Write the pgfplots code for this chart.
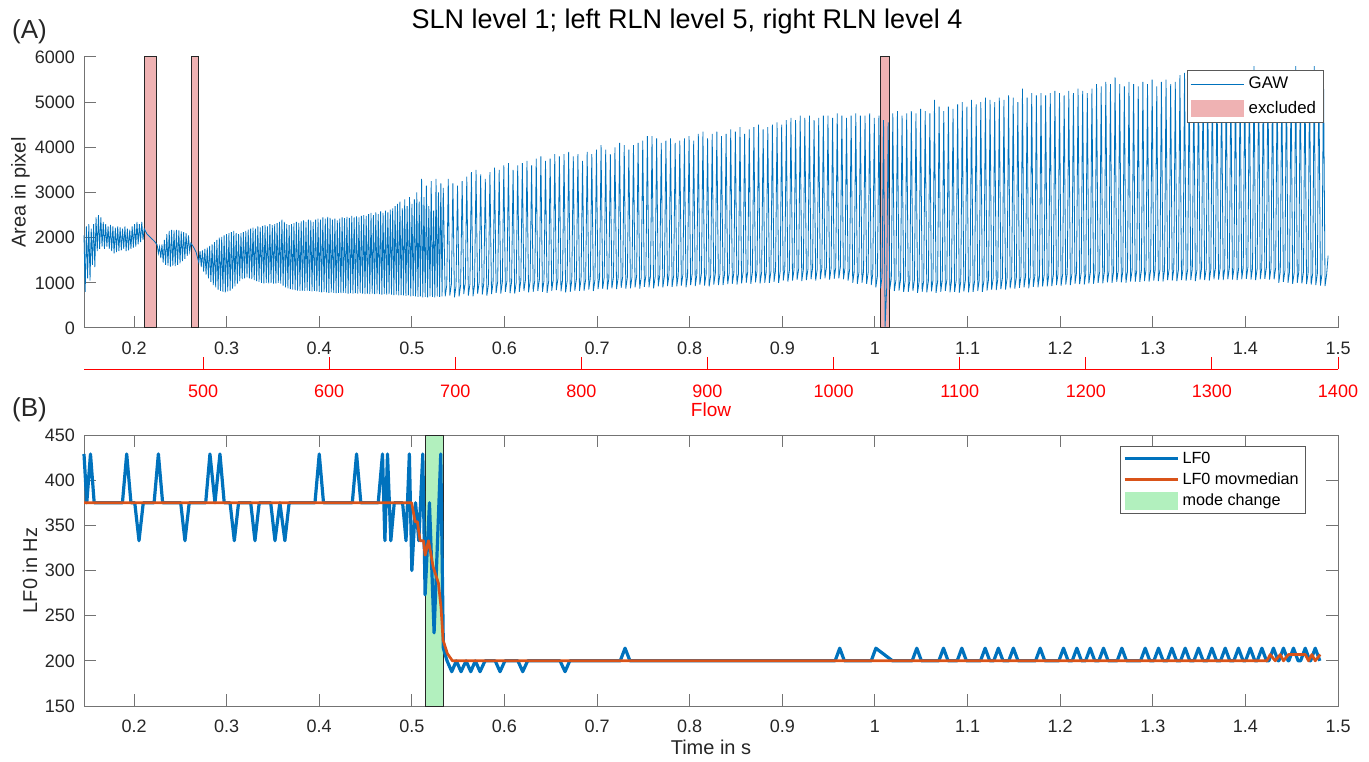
\documentclass[border=0pt]{standalone}
\usepackage{pgfplots}
\usepackage{pgfplotstable}
\pgfplotsset{compat=1.18}
\usepackage{fontspec}
\setmainfont{Liberation Sans}
\definecolor{gawblue}{RGB}{0,114,189}
\definecolor{mlorange}{RGB}{217,83,25}
\definecolor{exclpink}{RGB}{239,178,179}
\definecolor{modegreen}{RGB}{178,240,190}
\definecolor{axgray}{RGB}{115,115,115}
\definecolor{txt}{RGB}{38,38,38}
\pgfplotsset{
  mylinelegend/.style={legend image code/.code={\draw[##1] (0pt,0pt) -- (26.5pt,0pt);}},
  myarealegend/.style={legend image code/.code={\fill[##1] (0pt,-4.3pt) rectangle (26.5pt,4.3pt);}},
  base/.style={
    scale only axis, width=627pt, height=135.5pt,
    xmin=0.146, xmax=1.5,
    xtick={0.2,0.3,0.4,0.5,0.6,0.7,0.8,0.9,1,1.1,1.2,1.3,1.4,1.5},
    /pgf/number format/assume math mode=true,
    /pgf/number format/1000 sep={},
    tick label style={font=\fontsize{9}{10}\selectfont, text=txt},
    xticklabel style={yshift=-3.6pt},
    yticklabel style={xshift=-1pt},
    label style={font=\fontsize{10}{12}\selectfont, text=txt},
    axis line style={axgray, line width=0.5pt},
    major tick style={axgray, line width=0.5pt},
    major tick length=6.2pt,
    tick align=inside,
    xlabel style={at={(axis description cs:0.5,0)}, anchor=center, yshift=-20.5pt},
    legend style={draw=black!65, line width=0.4pt, fill=white, text=black, cells={anchor=west}, inner xsep=1.5pt, inner ysep=1pt, row sep=0pt},
    legend cell align=left,
  },
}
\begin{document}
\pgfplotstableread{
t a
0.1460 2050
0.1473 800
0.1486 2250
0.1499 1100
0.1512 2300
0.1525 1050
0.1538 2200
0.1551 1400
0.1564 2300
0.1577 1350
0.1590 2450
0.1603 1700
0.1616 2500
0.1629 1750
0.1642 2450
0.1655 1800
0.1668 2350
0.1681 1750
0.1694 2300
0.1707 1800
0.1720 2250
0.1733 1750
0.1746 2280
0.1759 1700
0.1772 2250
0.1785 1650
0.1798 2220
0.1811 1680
0.1824 2250
0.1837 1700
0.1850 2230
0.1863 1720
0.1876 2200
0.1889 1750
0.1902 2250
0.1915 1700
0.1928 2200
0.1941 1720
0.1954 2180
0.1967 1750
0.1980 2250
0.1993 1780
0.2006 2300
0.2019 1800
0.2032 2350
0.2045 1850
0.2058 2300
0.2071 1900
0.2084 2350
0.2097 1950
0.2110 2200
0.2140 2080
0.2180 2000
0.2220 1920
0.2250 1840
0.2263 1650
0.2276 1800
0.2289 1550
0.2302 1850
0.2315 1450
0.2328 1950
0.2341 1400
0.2354 2080
0.2367 1380
0.2380 2150
0.2393 1360
0.2406 2170
0.2419 1380
0.2432 2160
0.2445 1370
0.2458 2170
0.2471 1400
0.2484 2160
0.2497 1430
0.2510 2140
0.2523 1480
0.2536 2120
0.2549 1530
0.2562 2100
0.2575 1600
0.2588 2050
0.2601 1700
0.2614 1880
0.2640 1800
0.2670 1680
0.2700 1450
0.2713 1700
0.2726 1350
0.2739 1720
0.2752 1250
0.2765 1750
0.2778 1180
0.2791 1780
0.2804 1100
0.2817 1820
0.2830 1020
0.2843 1850
0.2856 950
0.2869 1900
0.2882 900
0.2895 1950
0.2908 850
0.2921 2000
0.2934 820
0.2947 2020
0.2960 800
0.2973 2050
0.2986 790
0.2999 2080
0.3012 810
0.3025 2100
0.3038 830
0.3051 2120
0.3064 870
0.3077 2150
0.3090 920
0.3103 2100
0.3116 980
0.3129 2080
0.3142 1040
0.3155 2100
0.3168 1080
0.3181 2120
0.3194 1100
0.3207 2150
0.3220 1120
0.3233 2180
0.3246 1100
0.3259 2200
0.3272 1080
0.3285 2220
0.3298 1060
0.3311 2200
0.3324 1040
0.3337 2250
0.3350 1020
0.3363 2230
0.3376 1000
0.3389 2260
0.3402 990
0.3415 2280
0.3428 1000
0.3441 2250
0.3454 990
0.3467 2300
0.3480 1000
0.3493 2280
0.3506 980
0.3519 2300
0.3532 990
0.3545 2320
0.3558 1000
0.3571 2350
0.3584 980
0.3597 2400
0.3610 940
0.3623 2350
0.3636 900
0.3649 2300
0.3662 880
0.3675 2280
0.3688 860
0.3701 2300
0.3714 850
0.3727 2320
0.3740 840
0.3753 2350
0.3766 830
0.3779 2330
0.3792 820
0.3805 2360
0.3818 830
0.3831 2380
0.3844 820
0.3857 2350
0.3870 830
0.3883 2400
0.3896 820
0.3909 2380
0.3922 810
0.3935 2350
0.3948 820
0.3961 2400
0.3974 810
0.3987 2420
0.4000 800
0.4013 2400
0.4026 790
0.4039 2450
0.4052 800
0.4065 2420
0.4078 790
0.4091 2460
0.4104 780
0.4117 2440
0.4130 790
0.4143 2400
0.4156 780
0.4169 2420
0.4182 770
0.4195 2380
0.4208 780
0.4221 2420
0.4234 770
0.4247 2450
0.4260 780
0.4273 2430
0.4286 770
0.4299 2460
0.4312 760
0.4325 2440
0.4338 770
0.4351 2480
0.4364 760
0.4377 2450
0.4390 770
0.4403 2470
0.4416 760
0.4429 2450
0.4442 770
0.4455 2480
0.4468 760
0.4481 2500
0.4494 750
0.4507 2480
0.4520 760
0.4533 2520
0.4546 750
0.4559 2550
0.4572 760
0.4585 2500
0.4598 750
0.4611 2560
0.4624 760
0.4637 2520
0.4650 750
0.4663 2580
0.4676 740
0.4689 2550
0.4702 750
0.4715 2600
0.4728 740
0.4741 2560
0.4754 750
0.4767 2620
0.4780 740
0.4793 2650
0.4806 730
0.4819 2700
0.4832 740
0.4845 2750
0.4858 720
0.4871 2800
0.4884 730
0.4897 2650
0.4910 720
0.4923 2850
0.4936 710
0.4949 2700
0.4962 720
0.4975 2900
0.4988 700
0.5001 2750
0.5014 710
0.5027 2850
0.5040 700
0.5053 3000
0.5066 690
0.5079 2800
0.5092 700
0.5105 3300
0.5118 680
0.5131 2900
0.5144 690
0.5157 3150
0.5170 680
0.5183 2700
0.5196 700
0.5209 3250
0.5222 690
0.5235 2600
0.5248 680
0.5261 3300
0.5274 700
0.5287 3000
0.5300 690
0.5313 3200
0.5326 700
0.5339 3100
0.5360 700
0.5377 950
0.5393 3300
0.5410 720
0.5427 970
0.5443 3200
0.5460 680
0.5477 930
0.5493 3150
0.5510 700
0.5527 950
0.5543 3250
0.5560 750
0.5577 1000
0.5593 3350
0.5610 720
0.5627 970
0.5643 3450
0.5660 700
0.5677 950
0.5693 3500
0.5710 760
0.5727 1010
0.5743 3400
0.5760 740
0.5777 990
0.5793 3300
0.5810 720
0.5827 970
0.5843 3450
0.5860 750
0.5877 1000
0.5893 3550
0.5910 780
0.5927 1030
0.5943 3500
0.5960 760
0.5977 1010
0.5993 3600
0.6010 800
0.6027 1050
0.6043 3650
0.6060 770
0.6077 1020
0.6093 3500
0.6110 760
0.6127 1010
0.6143 3600
0.6160 800
0.6177 1050
0.6193 3650
0.6210 820
0.6227 1070
0.6243 3700
0.6260 790
0.6277 1040
0.6293 3600
0.6310 800
0.6327 1050
0.6343 3750
0.6360 820
0.6377 1070
0.6393 3800
0.6410 800
0.6427 1050
0.6443 3700
0.6460 780
0.6477 1030
0.6493 3750
0.6510 820
0.6527 1070
0.6543 3850
0.6560 840
0.6577 1090
0.6593 3800
0.6610 810
0.6627 1060
0.6643 3850
0.6660 790
0.6677 1040
0.6693 3900
0.6710 800
0.6727 1050
0.6743 3800
0.6760 830
0.6777 1080
0.6793 3850
0.6810 820
0.6827 1070
0.6843 3700
0.6860 830
0.6877 1080
0.6893 3900
0.6910 850
0.6927 1100
0.6943 3850
0.6960 820
0.6977 1070
0.6993 3950
0.7010 860
0.7027 1110
0.7043 4050
0.7060 870
0.7077 1120
0.7093 3950
0.7110 850
0.7127 1100
0.7143 3850
0.7160 880
0.7177 1130
0.7193 4000
0.7210 860
0.7227 1110
0.7243 4100
0.7260 890
0.7277 1140
0.7293 4050
0.7310 870
0.7327 1120
0.7343 3950
0.7360 880
0.7377 1130
0.7393 4050
0.7410 900
0.7427 1150
0.7443 4100
0.7460 870
0.7477 1120
0.7493 4150
0.7510 910
0.7527 1160
0.7543 4250
0.7560 900
0.7577 1150
0.7593 4250
0.7610 880
0.7627 1130
0.7643 4200
0.7660 920
0.7677 1170
0.7693 4100
0.7710 900
0.7727 1150
0.7743 4150
0.7760 930
0.7777 1180
0.7793 4200
0.7810 910
0.7827 1160
0.7843 4100
0.7860 920
0.7877 1170
0.7893 4150
0.7910 940
0.7927 1190
0.7943 4200
0.7960 900
0.7977 1150
0.7993 4250
0.8010 950
0.8027 1200
0.8043 4150
0.8060 930
0.8077 1180
0.8093 4300
0.8110 960
0.8127 1210
0.8143 4350
0.8160 940
0.8177 1190
0.8193 4200
0.8210 920
0.8227 1170
0.8243 4300
0.8260 960
0.8277 1210
0.8293 4350
0.8310 950
0.8327 1200
0.8343 4250
0.8360 950
0.8377 1200
0.8393 4300
0.8410 970
0.8427 1220
0.8443 4400
0.8460 980
0.8477 1230
0.8493 4350
0.8510 960
0.8527 1210
0.8543 4450
0.8560 990
0.8577 1240
0.8593 4300
0.8610 1000
0.8627 1250
0.8643 4400
0.8660 980
0.8677 1230
0.8693 4450
0.8710 1010
0.8727 1260
0.8743 4500
0.8760 990
0.8777 1240
0.8793 4400
0.8810 1000
0.8827 1250
0.8843 4450
0.8860 1000
0.8877 1250
0.8893 4500
0.8910 1020
0.8927 1270
0.8943 4550
0.8960 1000
0.8977 1250
0.8993 4500
0.9010 1050
0.9027 1300
0.9043 4600
0.9060 1030
0.9077 1280
0.9093 4650
0.9110 1050
0.9127 1300
0.9143 4600
0.9160 1070
0.9177 1320
0.9193 4700
0.9210 1040
0.9227 1290
0.9243 4650
0.9260 1060
0.9277 1310
0.9293 4700
0.9310 1080
0.9327 1330
0.9343 4600
0.9360 1050
0.9377 1300
0.9393 4650
0.9410 1080
0.9427 1330
0.9443 4700
0.9460 1100
0.9477 1350
0.9493 4700
0.9510 1070
0.9527 1320
0.9543 4650
0.9560 1090
0.9577 1340
0.9593 4750
0.9610 1100
0.9627 1350
0.9643 4700
0.9660 1080
0.9677 1330
0.9693 4650
0.9710 1050
0.9727 1300
0.9743 4700
0.9760 1000
0.9777 1250
0.9793 4750
0.9810 980
0.9827 1230
0.9843 4700
0.9860 1000
0.9877 1250
0.9893 4700
0.9910 980
0.9927 1230
0.9943 4750
0.9960 950
0.9977 1200
0.9993 4650
1.0010 900
1.0027 1150
1.0043 4700
1.0060 880
1.0077 1130
1.0093 4600
1.0110 30
1.0127 900
1.0143 4550
1.0160 850
1.0177 1100
1.0193 4750
1.0210 820
1.0227 1070
1.0243 4800
1.0260 830
1.0277 1080
1.0293 4700
1.0310 800
1.0327 1050
1.0343 4750
1.0360 800
1.0377 1050
1.0393 4800
1.0410 820
1.0427 1070
1.0443 4750
1.0460 780
1.0477 1030
1.0493 4850
1.0510 800
1.0527 1050
1.0543 4800
1.0560 790
1.0577 1040
1.0593 4750
1.0610 810
1.0627 1060
1.0643 5050
1.0660 780
1.0677 1030
1.0693 4900
1.0710 800
1.0727 1050
1.0743 4800
1.0760 820
1.0777 1070
1.0793 4900
1.0810 790
1.0827 1040
1.0843 4850
1.0860 800
1.0877 1050
1.0893 4950
1.0910 780
1.0927 1030
1.0943 5000
1.0960 810
1.0977 1060
1.0993 4900
1.1010 790
1.1027 1040
1.1043 5050
1.1060 800
1.1077 1050
1.1093 4950
1.1110 820
1.1127 1070
1.1143 5000
1.1160 800
1.1177 1050
1.1193 5100
1.1210 830
1.1227 1080
1.1243 5050
1.1260 850
1.1277 1100
1.1293 5000
1.1310 840
1.1327 1090
1.1343 5100
1.1360 860
1.1377 1110
1.1393 5050
1.1410 850
1.1427 1100
1.1443 5150
1.1460 880
1.1477 1130
1.1493 5100
1.1510 870
1.1527 1120
1.1543 5000
1.1560 890
1.1577 1140
1.1593 5300
1.1610 900
1.1627 1150
1.1643 5100
1.1660 880
1.1677 1130
1.1693 5200
1.1710 910
1.1727 1160
1.1743 5150
1.1760 900
1.1777 1150
1.1793 5200
1.1810 920
1.1827 1170
1.1843 5150
1.1860 920
1.1877 1170
1.1893 5200
1.1910 930
1.1927 1180
1.1943 5250
1.1960 950
1.1977 1200
1.1993 5200
1.2010 940
1.2027 1190
1.2043 5150
1.2060 960
1.2077 1210
1.2093 5250
1.2110 950
1.2127 1200
1.2143 5200
1.2160 980
1.2177 1230
1.2193 5300
1.2210 970
1.2227 1220
1.2243 5250
1.2260 960
1.2277 1210
1.2293 5200
1.2310 990
1.2327 1240
1.2343 5300
1.2360 980
1.2377 1230
1.2393 5400
1.2410 1000
1.2427 1250
1.2443 5350
1.2460 990
1.2477 1240
1.2493 5450
1.2510 1010
1.2527 1260
1.2543 5400
1.2560 1000
1.2577 1250
1.2593 5550
1.2610 1020
1.2627 1270
1.2643 5400
1.2660 1010
1.2677 1260
1.2693 5350
1.2710 1000
1.2727 1250
1.2743 5450
1.2760 1030
1.2777 1280
1.2793 5400
1.2810 1020
1.2827 1270
1.2843 5350
1.2860 1020
1.2877 1270
1.2893 5450
1.2910 1040
1.2927 1290
1.2943 5400
1.2960 1030
1.2977 1280
1.2993 5500
1.3010 1050
1.3027 1300
1.3043 5350
1.3060 1040
1.3077 1290
1.3093 5450
1.3110 1030
1.3127 1280
1.3143 5500
1.3160 1060
1.3177 1310
1.3193 5400
1.3210 1050
1.3227 1300
1.3243 5450
1.3260 1040
1.3277 1290
1.3293 5600
1.3310 1060
1.3327 1310
1.3343 5650
1.3360 1050
1.3377 1300
1.3393 5600
1.3410 1060
1.3427 1310
1.3443 5550
1.3460 1040
1.3477 1290
1.3493 5650
1.3510 1070
1.3527 1320
1.3543 5600
1.3560 1060
1.3577 1310
1.3593 5500
1.3610 1050
1.3627 1300
1.3643 5650
1.3660 1080
1.3677 1330
1.3693 5600
1.3710 1070
1.3727 1320
1.3743 5550
1.3760 1060
1.3777 1310
1.3793 5650
1.3810 1080
1.3827 1330
1.3843 5600
1.3860 1070
1.3877 1320
1.3893 5650
1.3910 1060
1.3927 1310
1.3943 5600
1.3960 1080
1.3977 1330
1.3993 5700
1.4010 1090
1.4027 1340
1.4043 5650
1.4060 1070
1.4077 1320
1.4093 5800
1.4110 1060
1.4127 1310
1.4143 5650
1.4160 1080
1.4177 1330
1.4193 5600
1.4210 1090
1.4227 1340
1.4243 5700
1.4260 1070
1.4277 1320
1.4293 5650
1.4310 1080
1.4327 1330
1.4343 5600
1.4360 1000
1.4377 1250
1.4393 5650
1.4410 1020
1.4427 1270
1.4443 5700
1.4460 1000
1.4477 1250
1.4493 5650
1.4510 980
1.4527 1230
1.4543 5800
1.4560 1000
1.4577 1250
1.4593 5650
1.4610 990
1.4627 1240
1.4643 5700
1.4660 970
1.4677 1220
1.4693 5650
1.4710 960
1.4727 1210
1.4743 5800
1.4760 950
1.4777 1200
1.4793 5700
1.4810 940
1.4827 1190
1.4843 5650
1.4860 930
1.4877 1180
1.4893 1600
}\gawdata
\pgfplotstableread{
t f
0.1460 429
0.1490 375
0.1530 429
0.1570 375
0.1875 375
0.1921 429
0.1967 375
0.2008 375
0.2054 333
0.2100 375
0.2217 375
0.2263 429
0.2309 375
0.2504 375
0.2550 333
0.2596 375
0.2774 375
0.2820 429
0.2874 375
0.2928 429
0.2974 375
0.3037 375
0.3083 333
0.3129 375
0.3260 375
0.3306 333
0.3352 375
0.3476 375
0.3522 333
0.3575 375
0.3629 333
0.3675 375
0.3954 375
0.4000 429
0.4046 375
0.4357 375
0.4403 429
0.4449 375
0.4637 375
0.4683 429
0.4709 333
0.4737 429
0.4773 333
0.4810 375
0.4900 375
0.4937 333
0.4973 429
0.5000 300
0.5040 375
0.5075 333
0.5118 429
0.5143 273
0.5190 375
0.5240 231
0.5312 429
0.5340 214
0.5380 200
0.5431 188
0.5480 200
0.5531 188
0.5585 200
0.5636 188
0.5685 200
0.5736 188
0.5790 200
0.5900 200
0.5952 188
0.6005 200
0.6145 200
0.6197 188
0.6250 200
0.6600 200
0.6654 188
0.6705 200
0.7250 200
0.7302 214
0.7355 200
0.9570 200
0.9620 214
0.9670 200
0.9960 200
1.0010 214
1.0190 200
1.0402 200
1.0452 214
1.0502 200
1.0690 200
1.0740 214
1.0790 200
1.0888 200
1.0938 214
1.0988 200
1.1140 200
1.1190 214
1.1240 200
1.1283 200
1.1333 214
1.1383 200
1.1445 200
1.1495 214
1.1545 200
1.1734 200
1.1784 214
1.1834 200
1.1986 200
1.2036 214
1.2086 200
1.2130 200
1.2180 214
1.2230 200
1.2274 200
1.2324 214
1.2374 200
1.2418 200
1.2468 214
1.2518 200
1.2616 200
1.2666 214
1.2716 200
1.2868 200
1.2918 214
1.2968 200
1.3012 200
1.3062 214
1.3112 200
1.3156 200
1.3206 214
1.3256 200
1.3300 200
1.3350 214
1.3400 200
1.3444 200
1.3494 214
1.3544 200
1.3588 200
1.3638 214
1.3688 200
1.3732 200
1.3782 214
1.3832 200
1.3875 200
1.3925 214
1.3975 200
1.4002 200
1.4052 214
1.4102 200
1.4128 200
1.4178 214
1.4228 200
1.4253 200
1.4303 214
1.4353 200
1.4361 200
1.4411 214
1.4461 200
1.4469 200
1.4519 214
1.4569 200
1.4596 200
1.4646 214
1.4696 200
1.4704 200
1.4754 214
1.4804 200
}\lfdata
\pgfplotstableread{
t f
0.1460 375
0.4998 375
0.5035 354
0.5060 354
0.5089 333
0.5125 333
0.5143 317
0.5180 333
0.5230 304
0.5287 286
0.5315 259
0.5337 223
0.5384 208
0.5438 200
1.4232 200
1.4268 207
1.4322 200
1.4376 207
1.4411 200
1.4465 207
1.4646 207
1.4681 200
1.4718 207
1.4754 200
1.4808 207
}\lfmed
\begin{tikzpicture}
\path[use as bounding box] (0,0) rectangle (684.5pt,380.5pt);
\node[font=\fontsize{13.5}{16}\selectfont, text=black] at (343.5pt,369.5pt) {SLN level 1; left RLN level 5, right RLN level 4};
\node[font=\fontsize{13}{15}\selectfont, text=txt] at (14.75pt,364.5pt) {(A)};
\node[font=\fontsize{13}{15}\selectfont, text=txt] at (14.75pt,175.5pt) {(B)};
% Panel A
\begin{axis}[base, at={(42pt,216.5pt)}, anchor=south west,
  axis x line*=bottom, axis y line*=left, xtick pos=left, ytick pos=left,
  ymin=0, ymax=6000, ytick={0,1000,2000,3000,4000,5000,6000},
  ylabel={Area in pixel},
  ylabel style={at={(axis description cs:-0.0506,0.5)}, anchor=center},
  clip=false,
  legend style={at={(0.9888,0.952)}, anchor=north east, font=\fontsize{8.4}{10}\selectfont, nodes={inner sep=2.3pt}},
]
\addplot[fill=exclpink, draw=black!85, line width=0.5pt, forget plot] coordinates {(0.2111,0) (0.2111,6000) (0.2245,6000) (0.2245,0) (0.2111,0)};
\addplot[fill=exclpink, draw=black!85, line width=0.5pt, forget plot] coordinates {(0.2619,0) (0.2619,6000) (0.2699,6000) (0.2699,0) (0.2619,0)};
\addplot[fill=exclpink, draw=black!85, line width=0.5pt, forget plot] coordinates {(1.0064,0) (1.0064,6000) (1.0157,6000) (1.0157,0) (1.0064,0)};
\addplot[gawblue, line width=0.4pt, mylinelegend] table[x=t, y=a] {\gawdata};
\addlegendentry{GAW}
\addlegendimage{myarealegend, fill=exclpink, draw=none}
\addlegendentry{excluded}
\end{axis}
% Flow axis
\begin{axis}[base, at={(42pt,196pt)}, anchor=south west, height=10pt,
  xmin=405.6, xmax=1400, ymin=0, ymax=1,
  xtick={500,600,700,800,900,1000,1100,1200,1300,1400},
  axis x line*=bottom, hide y axis, xtick pos=left,
  axis line style={red, line width=0.5pt},
  major tick style={red, line width=0.5pt},
  tick label style={font=\fontsize{9}{10}\selectfont, text=red},
  xticklabel style={yshift=-0.6pt},
  xlabel={Flow},
  label style={font=\fontsize{9.5}{11}\selectfont, text=red},
]
\end{axis}
% Panel B
\begin{axis}[base, at={(42pt,27.5pt)}, anchor=south west,
  ymin=150, ymax=450, ytick={150,200,250,300,350,400,450},
  xlabel={Time in s}, ylabel={LF0 in Hz},
  ylabel style={at={(axis description cs:-0.0431,0.5)}, anchor=center},
  clip=false,
  legend style={at={(0.9739,0.959)}, anchor=north east, font=\fontsize{8.1}{9.5}\selectfont, nodes={inner sep=1.6pt}},
]
\addplot[fill=modegreen, draw=black!85, line width=0.5pt, forget plot] coordinates {(0.5143,150) (0.5143,450) (0.5340,450) (0.5340,150) (0.5143,150)};
\addplot[gawblue, line width=1.6pt, line join=round, mylinelegend] table[x=t, y=f] {\lfdata};
\addlegendentry{LF0}
\addplot[mlorange, line width=1.35pt, line join=round, mylinelegend] table[x=t, y=f] {\lfmed};
\addlegendentry{LF0 movmedian}
\addlegendimage{myarealegend, fill=modegreen, draw=none}
\addlegendentry{mode change}
\end{axis}
\end{tikzpicture}
\end{document}
